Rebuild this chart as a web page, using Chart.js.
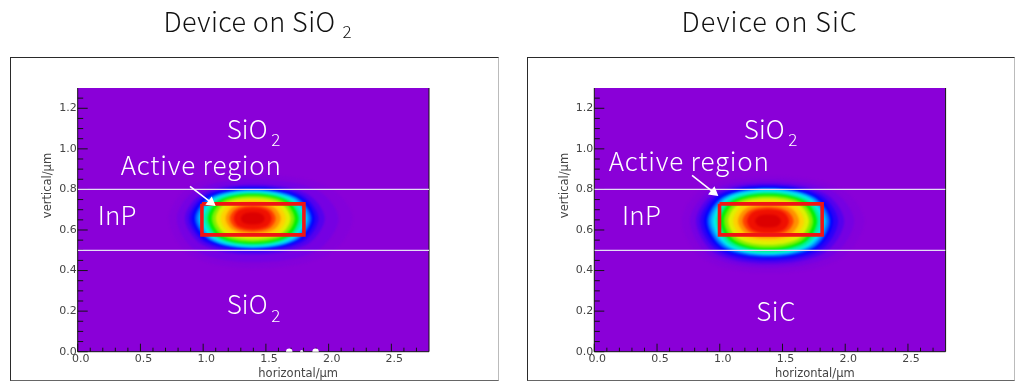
<!DOCTYPE html>
<html><head><meta charset="utf-8">
<style>
html,body{margin:0;padding:0;background:#fff;width:1024px;height:391px;overflow:hidden}
.p{position:absolute;top:0;width:512px;height:391px}
.f{position:absolute;top:57px;height:322px;box-sizing:content-box;border-left:1px solid #2a2a2a;border-top:1px solid #2a2a2a;border-bottom:1px solid #666;border-right:1px solid #bbb}
canvas{position:absolute;left:0;top:0}
</style>
<script src="https://cdn.jsdelivr.net/npm/chart.js@4/dist/chart.umd.js"></script>
</head><body>
<div class="f" style="left:10px;width:487px"></div>
<div class="f" style="left:527px;width:486px"></div>
<div class="p" style="left:0"><canvas id="a" width="512" height="391"></canvas></div>
<div class="p" style="left:512px"><canvas id="b" width="512" height="391"></canvas></div>
<script>
const xTickValues=[0,0.5,1,1.5,2,2.5];
const yTickValues=[0,0.2,0.4,0.6,0.8,1,1.2];
const xMinorValues=[0.1,0.2,0.3,0.4,0.6,0.7,0.8,0.9,1.1,1.2,1.3,1.4,1.6,1.7,1.8,1.9,2.1,2.2,2.3,2.4,2.6,2.7];
const yMinorValues=[0.05,0.1,0.15,0.25,0.3,0.35,0.45,0.5,0.55,0.65,0.7,0.75,0.85,0.9,0.95,1.05,1.1,1.15,1.25];
const layerLines=[0.8,0.5];
const levelColors=['#8400da','#7600e2','#5400ee','#2c00f8','#0000ff','#0060ff','#00b0ff','#00eef0','#00f0a0','#00f000','#80f000','#e0f000','#ffd000','#ff9000','#ff4000','#f01000','#dc0000'];

const leftX=[
[.727,.901,1.395,1.984,2.191,1.984,1.395,.901],
[.79,.947,1.395,1.901,2.079,1.901,1.395,.947],
[.854,.995,1.395,1.819,1.968,1.819,1.395,.995],
[.886,1.018,1.395,1.784,1.92,1.784,1.395,1.018],
[.91,1.036,1.395,1.76,1.888,1.76,1.395,1.036],
[.934,1.054,1.395,1.742,1.864,1.742,1.395,1.054],
[.957,1.071,1.395,1.725,1.841,1.725,1.395,1.071],
[.981,1.089,1.395,1.707,1.817,1.707,1.395,1.089],
[1.005,1.107,1.395,1.689,1.793,1.689,1.395,1.107],
[1.037,1.13,1.395,1.666,1.761,1.666,1.395,1.13],
[1.069,1.154,1.395,1.642,1.729,1.642,1.395,1.154],
[1.101,1.177,1.395,1.619,1.697,1.619,1.395,1.177],
[1.14,1.207,1.395,1.589,1.658,1.589,1.395,1.207],
[1.18,1.236,1.395,1.56,1.618,1.56,1.395,1.236],
[1.212,1.26,1.395,1.53,1.578,1.53,1.395,1.26],
[1.244,1.283,1.395,1.507,1.546,1.507,1.395,1.283],
[1.3,1.324,1.395,1.466,1.49,1.466,1.395,1.324]];
const leftY=[
[.657,.817,.873,.817,.657,.475,.411,.475],
[.657,.799,.849,.799,.657,.497,.441,.497],
[.657,.781,.824,.781,.657,.526,.48,.526],
[.657,.773,.814,.773,.657,.537,.495,.537],
[.657,.768,.807,.768,.657,.544,.505,.544],
[.657,.763,.8,.763,.657,.548,.509,.548],
[.657,.759,.795,.759,.657,.551,.514,.551],
[.657,.755,.79,.755,.657,.555,.519,.555],
[.657,.752,.785,.752,.657,.559,.524,.559],
[.657,.746,.778,.746,.657,.564,.532,.564],
[.657,.741,.77,.741,.657,.571,.541,.571],
[.657,.732,.758,.732,.657,.581,.554,.581],
[.657,.723,.746,.723,.657,.591,.568,.591],
[.657,.713,.733,.713,.657,.601,.581,.601],
[.657,.704,.721,.704,.657,.61,.593,.61],
[.657,.697,.711,.697,.657,.617,.603,.617],
[.657,.679,.687,.679,.657,.635,.627,.635]];
const rightX=[
[.699,.877,1.385,1.951,2.151,1.951,1.385,.877],
[.763,.925,1.385,1.893,2.071,1.893,1.385,.925],
[.811,.96,1.385,1.833,1.991,1.833,1.385,.96],
[.843,.984,1.385,1.798,1.943,1.798,1.385,.984],
[.875,1.007,1.385,1.769,1.903,1.769,1.385,1.007],
[.899,1.025,1.385,1.751,1.879,1.751,1.385,1.025],
[.922,1.043,1.385,1.733,1.855,1.733,1.385,1.043],
[.946,1.06,1.385,1.715,1.832,1.715,1.385,1.06],
[.97,1.078,1.385,1.698,1.808,1.698,1.385,1.078],
[1.002,1.102,1.385,1.674,1.776,1.674,1.385,1.102],
[1.034,1.125,1.385,1.651,1.744,1.651,1.385,1.125],
[1.066,1.149,1.385,1.627,1.712,1.627,1.385,1.149],
[1.106,1.178,1.385,1.597,1.672,1.597,1.385,1.178],
[1.146,1.208,1.385,1.568,1.632,1.568,1.385,1.208],
[1.182,1.235,1.385,1.535,1.588,1.535,1.385,1.235],
[1.218,1.261,1.385,1.509,1.552,1.509,1.385,1.261],
[1.281,1.308,1.385,1.462,1.489,1.462,1.385,1.308]];
const rightY=[
[.644,.808,.865,.808,.644,.455,.388,.455],
[.644,.793,.846,.793,.644,.473,.413,.473],
[.644,.782,.831,.782,.644,.487,.432,.487],
[.644,.775,.821,.775,.644,.498,.447,.498],
[.644,.77,.814,.77,.644,.508,.46,.508],
[.644,.764,.806,.764,.644,.513,.467,.513],
[.644,.76,.801,.76,.644,.52,.477,.52],
[.644,.757,.796,.757,.644,.524,.482,.524],
[.644,.751,.789,.751,.644,.529,.489,.529],
[.644,.744,.779,.744,.644,.538,.501,.538],
[.644,.737,.769,.737,.644,.546,.511,.546],
[.644,.728,.757,.728,.644,.557,.526,.557],
[.644,.717,.742,.717,.644,.571,.546,.571],
[.644,.706,.728,.706,.644,.582,.56,.582],
[.644,.695,.713,.695,.644,.593,.575,.593],
[.644,.688,.703,.688,.644,.6,.585,.6],
[.644,.668,.676,.668,.644,.62,.612,.62]];

const leftRectX=[.99,1.803,1.803,.99,.99], rightRectX=[.998,1.816,1.816,.998,.998];
const rectY=[.729,.729,.576,.576,.729];
const leftArrowX=[.895,1.062], leftArrowY=[.815,.736];
const rightArrowX=[.779,.951], rightArrowY=[.869,.786];
const leftSpotX=[1.686,1.785,1.896], leftSpotY=[0,0,0];

const leftTitle=['Device on SiO','2'], rightTitle=['Device on SiC',''];
const leftNotes=[['SiO','2',1.187,1.051,41],['Active region','',.343,.869,161],['InP','',.159,.623,39],['SiO','2',1.187,.185,41]];
const rightNotes=[['SiO','2',1.191,1.051,41],['Active region','',.115,.89,161],['InP','',.221,.623,39],['SiC','',1.29,.151,40]];

const NOTE_FONT='"Noto Sans CJK JP"';
const TICK_FONT='"DejaVu Sans"';

function pts(xs,ys){return xs.map((x,i)=>({x,y:ys[i]}));}
function wrap(p){return [p[p.length-1],...p,p[0],p[1]];}

const panelPlugin={
 id:'panel',
 beforeDraw(c){
  const {ctx,chartArea:a}=c;
  ctx.fillStyle='#8a00d8';
  ctx.fillRect(a.left,a.top,a.right-a.left,a.bottom-a.top);
  ctx.filter='blur(1.1px)';
 },
 beforeDatasetsDraw(c){
  c.ctx.filter='none';
  const {ctx,chartArea:a,scales:{x,y}}=c;
  ctx.save();
  ctx.strokeStyle='#141414';ctx.lineWidth=1;ctx.beginPath();
  xTickValues.forEach(v=>{const p=x.getPixelForValue(v);ctx.moveTo(p,a.bottom);ctx.lineTo(p,a.bottom-8);});
  xMinorValues.forEach(v=>{const p=x.getPixelForValue(v);ctx.moveTo(p,a.bottom);ctx.lineTo(p,a.bottom-4);});
  yTickValues.forEach(v=>{const p=y.getPixelForValue(v);ctx.moveTo(a.left,p);ctx.lineTo(a.left+10,p);});
  yMinorValues.forEach(v=>{const p=y.getPixelForValue(v);ctx.moveTo(a.left,p);ctx.lineTo(a.left+5.5,p);});
  ctx.moveTo(a.left,a.top);ctx.lineTo(a.left,a.bottom);ctx.lineTo(a.right,a.bottom);ctx.lineTo(a.right,a.top);
  ctx.stroke();
  ctx.restore();
 },
 afterDatasetsDraw(c,_,o){
  const {ctx,chartArea:a,scales:{x,y}}=c;
  ctx.save();
  ctx.textBaseline='alphabetic';ctx.textAlign='left';
  const fit=(t,w)=>{ctx.letterSpacing='0px';const m=ctx.measureText(t).width;ctx.letterSpacing=((w-m)/t.length)+'px';};
  o.notes.forEach(n=>{
   const px=x.getPixelForValue(n[2]),py=y.getPixelForValue(n[3]);
   ctx.fillStyle='#fff';ctx.font='300 26px '+NOTE_FONT;fit(n[0],n[4]);ctx.fillText(n[0],px,py);
   if(n[1]){ctx.letterSpacing='0px';ctx.font='300 17px '+NOTE_FONT;ctx.fillText(n[1],px+44.5,py+7.5);}
  });
  ctx.fillStyle='#111';ctx.font='300 27px '+NOTE_FONT;
  fit(o.title[0],o.titleW);ctx.fillText(o.title[0],o.titleX,32);
  if(o.title[1]){ctx.letterSpacing='0px';ctx.font='300 17px '+NOTE_FONT;ctx.fillText(o.title[1],o.titleX+179,37.5);}
  ctx.letterSpacing='0px';
  ctx.fillStyle='#444';ctx.font='11.5px '+TICK_FONT;
  ctx.textAlign='center';
  ctx.fillText('horizontal/μm',a.left+220.5,376.5);
  ctx.translate(a.left-29.5,185.5);ctx.rotate(-Math.PI/2);
  ctx.fillText('vertical/μm',0,3);
  ctx.restore();
 }
};

function panel(id,conf){
 const contours=levelColors.map((col,i)=>({data:wrap(pts(conf.cx[i],conf.cy[i])),showLine:true,fill:'shape',backgroundColor:col,borderWidth:0,pointRadius:0,tension:.33})).reverse();
 const lineWhite={borderColor:'#e4dcf4',borderWidth:1.3,pointRadius:0,showLine:true,fill:false};
 const datasets=[
  {data:pts(conf.ax,conf.ay),showLine:true,borderColor:'#fff',borderWidth:1.6,pointRadius:[0,6],pointStyle:'triangle',pointRotation:128,pointBackgroundColor:'#fff',pointBorderColor:'#fff',pointBorderWidth:0,fill:false},
  {data:pts(conf.rx,rectY),showLine:true,borderColor:'#f01414',borderWidth:3.6,borderJoinStyle:'miter',pointRadius:0,fill:false},
  ...layerLines.map(v=>({...lineWhite,data:[{x:0,y:v},{x:2.8,y:v}]})),
  ...(conf.spots?[{data:conf.spots,pointRadius:[3.2,1.6,3.2],pointBackgroundColor:'#fff',pointBorderWidth:0}]:[]),
  ...contours
 ];
 new Chart(document.getElementById(id),{
  type:'scatter',
  data:{datasets},
  plugins:[panelPlugin],
  options:{
   responsive:false,animation:false,events:[],
   layout:{padding:{left:conf.left-40,right:512-conf.left-351.3,top:88,bottom:9.3}},
   plugins:{legend:{display:false},tooltip:{enabled:false},title:{display:false},
    filler:{drawTime:'beforeDatasetsDraw'},
    panel:{notes:conf.notes,title:conf.title,titleW:conf.titleW,titleX:conf.titleX}},
   scales:{
    x:{type:'linear',min:0,max:2.8,afterFit(s){s.height=30;},
      afterBuildTicks(s){s.ticks=xTickValues.map(value=>({value}));},
      grid:{display:false,drawTicks:false,tickLength:0},border:{display:false},
      ticks:{z:1,padding:1,labelOffset:3,autoSkip:false,maxRotation:0,color:'#444',font:{family:'DejaVu Sans',size:11},callback:v=>v.toFixed(1)}},
    y:{type:'linear',min:0,max:1.3,afterFit(s){s.width=40;},
      afterBuildTicks(s){s.ticks=yTickValues.map(value=>({value}));},
      grid:{display:false,drawTicks:false,tickLength:0},border:{display:false},
      ticks:{z:1,padding:1,autoSkip:false,color:'#444',font:{family:'DejaVu Sans',size:11},callback:v=>v.toFixed(1)}}
   }
  }
 });
}
panel('a',{left:77.7,cx:leftX,cy:leftY,rx:leftRectX,ax:leftArrowX,ay:leftArrowY,spots:pts(leftSpotX,leftSpotY),notes:leftNotes,title:leftTitle,titleW:172,titleX:163.5});
panel('b',{left:82.3,cx:rightX,cy:rightY,rx:rightRectX,ax:rightArrowX,ay:rightArrowY,notes:rightNotes,title:rightTitle,titleW:176,titleX:169.6});
</script>
</body></html>
